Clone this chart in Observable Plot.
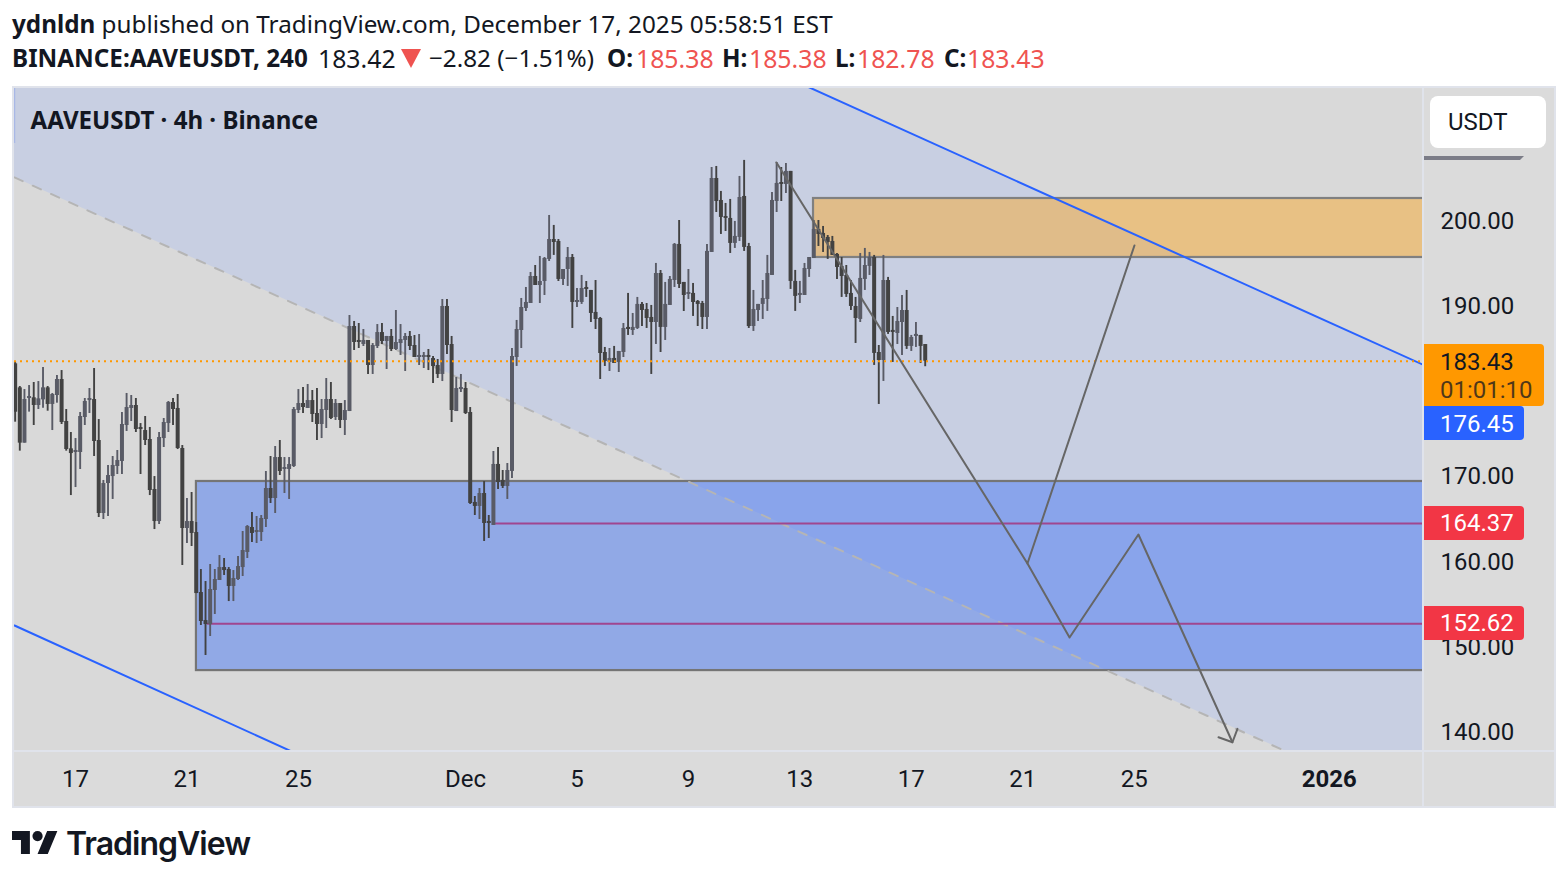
<!DOCTYPE html>
<html><head><meta charset="utf-8">
<script src="https://cdn.jsdelivr.net/npm/d3@7"></script>
<script src="https://cdn.jsdelivr.net/npm/@observablehq/plot@0.6"></script>
<style>
html,body{margin:0;padding:0;background:#fff;width:1568px;height:880px;overflow:hidden}
.h{position:absolute;white-space:pre;font-family:"Noto Sans",sans-serif;font-size:24.25px;line-height:32px;color:#131722}
.b{font-weight:700}.r{color:#ef5350;font-size:24.8px}
#chart{position:absolute;left:12px;top:86px;width:1544px;height:722px}
.box{position:absolute;box-sizing:border-box}
.tag{position:absolute;left:1412px;box-sizing:border-box;padding-left:16px;font:24px/34px Roboto,sans-serif;color:#fff;border-radius:0 4px 4px 0}
</style></head><body>
<div class="h b" style="left:12px;top:8px">ydnldn <span style="font-weight:400">published on TradingView.com, December 17, 2025 05:58:51 EST</span></div>
<div class="h b" style="left:12px;top:42px">BINANCE:AAVEUSDT, 240</div>
<div class="h" style="left:318px;top:42px;font-size:24.8px">183.42</div>
<svg style="position:absolute;left:401px;top:49px" width="20" height="19" viewBox="0 0 20 19"><polygon points="0,0 20,0 10,19" fill="#ef5350"/></svg>
<div class="h" style="left:429px;top:42px">−2.82 (−1.51%)</div>
<div class="h b" style="left:607px;top:42px">O:</div><div class="h r" style="left:636px;top:42px">185.38</div>
<div class="h b" style="left:722px;top:42px">H:</div><div class="h r" style="left:749px;top:42px">185.38</div>
<div class="h b" style="left:835px;top:42px">L:</div><div class="h r" style="left:857px;top:42px">182.78</div>
<div class="h b" style="left:944px;top:42px">C:</div><div class="h r" style="left:967px;top:42px">183.43</div>
<div id="chart"></div>
<svg style="position:absolute;left:12px;top:831px" width="46" height="23" viewBox="0 4 36 18"><path fill="#131722" d="M14 22H7V11H0V4h14v18zM28 22h-8l7.5-18h8L28 22z"/><circle fill="#131722" cx="20" cy="8" r="4"/></svg>
<div style="position:absolute;left:66px;top:824px;font:600 32px/40px Inter,sans-serif;letter-spacing:-1px;color:#131722">TradingView</div>
<script>
const opens=[183.12,180.30,173.81,179.05,179.13,178.23,178.89,180.30,178.35,179.40,
181.28,176.35,173.14,172.71,172.71,176.82,178.81,178.93,174.12,165.55,
169.07,169.89,171.07,171.66,175.88,177.88,178.23,175.65,175.29,174.24,
168.37,164.61,174.35,176.11,178.58,177.88,173.18,163.79,164.61,163.32,
156.28,152.99,152.52,156.52,157.69,159.21,158.98,156.99,157.81,159.21,
160.98,163.91,163.32,163.32,164.85,168.49,167.31,172.12,170.72,170.72,
171.07,177.64,178.46,177.88,178.81,177.29,176.00,177.64,178.93,176.82,
178.46,176.47,177.52,187.50,185.86,185.39,185.86,182.92,185.15,186.79,
185.74,186.33,184.80,185.50,185.86,186.33,185.27,183.86,183.86,184.10,
183.74,182.92,181.87,189.85,185.39,177.52,180.10,180.22,177.41,166.85,
166.38,167.90,164.62,164.15,171.31,169.43,168.73,170.49,183.86,187.03,
189.62,190.20,193.37,192.31,192.78,195.37,197.71,197.48,193.02,194.19,
195.60,190.32,190.32,192.08,191.73,189.15,188.44,184.45,183.28,183.75,
183.28,184.45,187.39,187.03,187.27,190.09,189.50,188.56,187.97,193.72,
187.39,189.97,192.90,197.13,192.67,191.26,191.38,190.44,190.20,188.56,
196.19,204.87,202.29,200.41,200.18,197.25,197.95,202.76,196.89,187.50,
189.38,190.09,190.67,193.49,202.17,204.40,204.17,205.70,192.79,191.14,
191.14,194.19,195.49,198.89,198.42,197.95,197.48,195.96,194.55,193.49,
191.38,189.85,188.33,193.02,194.55,195.60,184.45,183.51,192.90,187.04,
186.68,187.97,189.38,185.16,186.33,186.45,185.38];
const highs=[183.31,180.46,180.10,180.57,180.93,181.04,182.69,180.46,179.64,181.75,
182.33,177.76,175.06,174.35,177.41,179.05,180.22,182.57,176.58,169.43,
171.19,172.24,172.95,177.41,179.64,179.40,179.05,176.11,176.94,175.65,
169.89,175.06,176.70,178.70,179.05,179.52,173.53,167.31,168.02,164.50,
158.98,157.57,159.57,158.98,160.62,160.27,159.21,158.86,160.51,163.44,
164.14,165.67,165.20,165.32,170.48,172.24,173.42,174.12,172.12,172.12,
177.99,180.10,180.34,180.69,179.99,180.22,178.93,181.40,180.93,178.93,
178.46,178.81,188.79,188.09,187.85,187.15,185.86,185.50,187.73,187.85,
186.33,187.15,189.38,187.73,186.68,186.91,186.44,186.56,184.45,184.80,
183.98,183.63,190.67,190.67,186.33,181.51,181.87,180.93,177.99,167.55,
168.49,169.31,165.32,172.83,173.30,170.60,171.42,184.92,188.21,190.79,
192.08,193.84,194.66,195.72,195.60,200.53,199.36,197.71,194.19,196.77,
195.95,191.96,193.49,192.78,191.73,192.90,188.56,185.04,184.92,185.16,
184.57,187.85,191.38,189.03,190.91,190.32,190.20,189.97,194.90,194.07,
192.67,193.37,197.24,199.94,192.67,194.19,192.55,190.55,190.44,197.13,
206.16,206.28,203.35,201.94,202.41,199.83,205.11,206.99,197.25,191.73,
190.09,192.90,195.84,203.23,206.75,206.16,206.63,205.70,194.08,192.79,
194.90,195.60,199.94,199.94,199.24,198.18,198.07,196.07,195.60,194.66,
192.90,190.91,196.07,196.66,196.19,195.84,185.27,195.84,193.26,188.68,
189.73,191.14,191.73,186.45,187.97,186.45,185.38];
const lows=[176.27,172.87,173.81,177.45,175.88,177.76,177.91,177.56,175.29,178.50,
176.00,172.87,167.66,168.60,170.72,175.88,177.29,172.24,165.08,164.85,
165.20,167.20,170.13,170.13,175.18,176.35,175.06,170.13,173.53,167.66,
163.67,164.26,173.30,175.06,175.88,173.06,159.45,162.03,161.68,156.16,
152.41,148.89,151.12,153.70,157.69,158.28,155.22,155.22,157.69,158.16,
160.27,162.15,162.03,162.27,163.91,166.73,165.55,170.01,167.90,167.20,
170.95,177.29,177.29,177.88,176.23,174.12,174.35,175.53,176.58,176.47,
175.53,174.71,177.52,184.68,184.92,185.15,181.87,181.87,184.92,185.39,
182.45,184.56,184.68,184.10,182.22,184.68,183.86,182.92,182.57,182.33,
180.81,181.40,181.04,184.21,176.23,177.52,179.75,177.17,166.61,165.32,
164.85,162.27,162.62,164.15,168.37,168.49,167.20,169.66,182.81,184.92,
189.26,190.20,192.31,190.20,191.14,195.13,195.84,192.78,192.31,192.20,
187.27,189.73,190.09,190.91,187.97,187.15,181.28,182.81,182.22,183.16,
182.10,183.86,186.45,186.45,187.15,187.50,187.27,181.87,185.39,184.45,
185.86,189.97,192.08,191.96,189.26,190.67,188.68,187.50,187.15,187.15,
196.19,200.88,198.30,198.65,196.07,196.66,197.48,196.31,187.27,186.92,
188.09,188.33,189.27,193.49,200.88,202.17,203.11,191.85,189.27,190.20,
191.14,193.26,195.49,196.89,196.19,195.37,195.84,193.02,190.91,190.91,
189.38,185.51,187.97,191.73,193.49,182.93,178.35,181.05,186.57,183.28,
185.39,184.10,184.81,184.57,185.04,183.16,182.78];
const closes=[177.44,173.81,178.93,179.28,178.23,179.01,180.30,178.35,179.52,181.28,
176.23,173.06,172.59,172.95,176.94,178.70,179.05,174.00,165.55,169.07,
170.01,171.19,171.77,176.00,177.99,178.23,175.41,175.41,174.12,168.25,
164.61,174.47,176.23,178.58,177.76,173.18,163.79,164.61,163.21,156.16,
152.88,152.52,156.63,157.81,159.21,158.86,156.99,157.92,159.33,161.21,
164.03,163.21,163.56,164.97,168.49,167.31,172.12,170.48,170.95,171.30,
177.76,178.46,177.99,178.81,177.17,176.00,177.76,178.93,176.70,178.46,
176.47,177.64,187.50,185.62,185.62,185.86,182.92,185.27,186.79,185.74,
186.33,184.80,185.62,185.97,186.33,185.15,183.86,184.10,184.10,183.86,
182.80,181.87,189.85,185.27,177.64,180.22,180.34,177.29,166.73,166.38,
167.90,164.38,164.38,171.31,169.19,168.73,170.60,183.98,187.15,189.73,
190.32,193.37,192.31,192.78,195.48,197.71,197.36,193.02,194.19,195.60,
190.32,190.55,191.96,191.84,189.03,188.32,184.33,183.40,183.75,183.16,
184.57,187.27,187.15,187.39,190.09,189.38,188.44,187.97,193.72,187.39,
190.09,193.02,197.13,192.43,191.14,191.49,190.32,190.09,188.56,196.31,
204.87,202.17,200.30,200.18,197.25,198.07,202.64,196.78,187.50,189.50,
190.09,190.79,193.72,202.29,204.29,204.17,205.70,192.79,191.03,191.38,
194.31,195.60,198.89,198.30,197.83,197.36,195.84,194.43,193.37,191.26,
189.85,188.44,193.14,194.66,195.60,184.34,183.51,192.90,186.80,186.80,
188.09,189.38,185.16,186.21,186.57,185.16,183.43];

const firstBar = "2025-11-14T20:00Z";
const viewStart = "2025-11-14T19:26Z", viewEnd = "2026-01-04T08:24Z";
const priceMin = 137.74, priceMax = 215.43;
const priceTicks = [140,150,160,170,190,200];
const dateTicks = ["2025-11-17","2025-11-21","2025-11-25","2025-12-01","2025-12-05","2025-12-09","2025-12-13","2025-12-17","2025-12-21","2025-12-25"];
const dateTickLabels = ["17","21","25","Dec","5","9","13","17","21","25"];
const yearTick = "2026-01-01", yearLabel = "2026";

const channelDates = [viewStart, viewEnd];
const channelUpper = [257.7, 183.04];
const channelMiddle = [204.99, 130.4];
const channelLower = [152.41, 77.3];
const channelEdge = [208.98, priceMax];

const supplyZone = {start:"2025-12-13T11:46Z", end:"2026-01-10", top:202.52, bottom:195.6};
const demandZone = {start:"2025-11-21T08:10Z", end:"2026-01-10", top:169.31, bottom:147.12};
const levelPrices = [164.37, 152.62];
const levelStarts = ["2025-12-02T01:55Z","2025-11-21T17:40Z"];
const lastPrice = 183.43, linePrice = 176.45;

const pathA = [["2025-12-12T03:50Z",206.75],["2025-12-21T04:05Z",159.68],["2025-12-25T00:15Z",197.01]];
const pathB = [["2025-12-21T04:05Z",159.68],["2025-12-22T16:20Z",151.0],["2025-12-25T03:40Z",163.09],["2025-12-28T12:40Z",138.71]];
const arrowHead = [["2025-12-28T00:40Z",139.29],["2025-12-28T12:40Z",138.71],["2025-12-28T17:00Z",140.28]];

const UP = "#595b66", DOWN = "#424242", INK = "#131722";
const toDate = s => new Date(s);
const candles = opens.map((o,i)=>({t:new Date(+toDate(firstBar)+i*4*3600e3), o, h:highs[i], l:lows[i], c:closes[i], col: closes[i]>=o?UP:DOWN}));
const pts = a => a.map(([t,p])=>({t:toDate(t),p}));
const chan = channelDates.map((d,i)=>({t:toDate(d),u:channelUpper[i],m:channelMiddle[i],l:channelLower[i]}));
const levels = levelPrices.map((p,i)=>({p,t1:toDate(levelStarts[i]),t2:toDate(viewEnd)}));
const zone = z=>({x1:toDate(z.start),x2:toDate(z.end),y1:z.bottom,y2:z.top});

const plot = Plot.plot({
  width:1544, height:722, marginLeft:2, marginRight:134, marginTop:2, marginBottom:58,
  style:{background:"#dbdbdb",fontFamily:"Roboto,sans-serif",fontSize:"24px",color:INK},
  x:{type:"utc",domain:[toDate(viewStart),toDate(viewEnd)]},
  y:{domain:[priceMin,priceMax]},
  color:{type:"identity"},
  marks:[
    Plot.frame({fill:"#d9d9d9",stroke:null}),
    Plot.areaY(chan,{x:"t",y1:"m",y2:"u",fill:"#c8cfe2",clip:true}),
    Plot.rect([zone(supplyZone)],{x1:"x1",x2:"x2",y1:"y1",y2:"y2",fill:"#f7a92f",fillOpacity:0.5,stroke:"#808080",strokeWidth:2.2,clip:true}),
    Plot.rect([zone(demandZone)],{x1:"x1",x2:"x2",y1:"y1",y2:"y2",fill:"#4979f3",fillOpacity:0.5,stroke:"#757575",strokeWidth:2.2,clip:true}),
    Plot.line(chan,{x:"t",y:"m",stroke:"#b5b5b5",strokeWidth:2,strokeDasharray:"9,11",clip:true}),
    Plot.line(chan,{x:"t",y:"u",stroke:"#2962ff",strokeWidth:2,clip:true}),
    Plot.line(chan,{x:"t",y:"l",stroke:"#2962ff",strokeWidth:2,clip:true}),
    Plot.ruleX([toDate(viewStart)],{y1:channelEdge[0],y2:channelEdge[1],stroke:"#a9b8e6",strokeWidth:1.5}),
    Plot.ruleY(levels,{y:"p",x1:"t1",x2:"t2",stroke:"#a0468f",strokeWidth:2}),
    Plot.ruleX(candles,{x:"t",y1:"l",y2:"h",stroke:"col",strokeWidth:1.9}),
    Plot.ruleX(candles,{x:"t",y1:"o",y2:"c",stroke:"col",strokeWidth:4}),
    Plot.ruleY([lastPrice],{stroke:"#ff9800",strokeWidth:2,strokeDasharray:"2,4"}),
    Plot.line(pts(pathA),{x:"t",y:"p",stroke:"#666",strokeWidth:2,clip:true}),
    Plot.line(pts(pathB),{x:"t",y:"p",stroke:"#666",strokeWidth:2,clip:true}),
    Plot.line(pts(arrowHead),{x:"t",y:"p",stroke:"#666",strokeWidth:2,clip:true}),
    Plot.text(["AAVEUSDT · 4h · Binance"],{frameAnchor:"top-left",dx:16,dy:23,fontFamily:"Noto Sans",fontWeight:700,fontSize:24.1,fill:INK,lineAnchor:"top"}),
    Plot.axisY({anchor:"right",ticks:priceTicks,tickSize:0,tickPadding:18,tickFormat:d3.format(".2f"),label:null,color:INK,dy:1}),
    Plot.axisX({anchor:"bottom",ticks:dateTicks.map(toDate),tickSize:0,tickPadding:19,label:null,color:INK,
      tickFormat:d=>dateTickLabels[dateTicks.findIndex(s=>+toDate(s)===+d)]}),
    Plot.axisX({anchor:"bottom",ticks:[toDate(yearTick)],tickSize:0,tickPadding:19,label:null,color:INK,fontWeight:700,tickFormat:()=>yearLabel})
  ]
});
const chart = document.getElementById("chart");
chart.appendChild(plot);
plot.style.display="block";
const yS = plot.scale("y");
function box(css,text){const e=document.createElement("div");e.className="box";e.style.cssText+=css;if(text)e.textContent=text;chart.appendChild(e);return e;}
// pane separators and outer border
box("left:0;top:0;width:1544px;height:722px;border:2px solid #e0e3eb");
box("left:1410px;top:0;width:2px;height:722px;background:#e0e3eb");
box("left:0;top:664px;width:1544px;height:2px;background:#e0e3eb");
// currency button and scale grip
box("left:1418px;top:10px;width:116px;height:52px;background:#fff;border-radius:8px;font:24px/52px Roboto,sans-serif;color:#131722;padding-left:18px","USDT");
box("left:1412px;top:70px;width:100px;height:4px;background:#7b7c87;clip-path:polygon(0 0,100% 0,96% 100%,0 100%)");
function tag(price,bg,width,text,color){const e=document.createElement("div");e.className="tag";
  e.style.cssText+=`top:${yS.apply(price)-17}px;width:${width}px;height:34px;background:${bg};color:${color};`;
  e.textContent=text;chart.appendChild(e);return e;}
tag(levelPrices[0],"#f23645",100,"164.37","#fff");
tag(levelPrices[1],"#f23645",100,"152.62","#fff");
const ol=document.createElement("div");ol.className="tag";
ol.style.cssText+=`top:${yS.apply(lastPrice)-17}px;width:120px;height:62px;background:#ff9800;color:#131722;line-height:28px;padding-top:4px;`;
ol.innerHTML=`<div>183.43</div><div style="opacity:.75">01:01:10</div>`;chart.appendChild(ol);
const bl=document.createElement("div");bl.className="tag";
bl.style.cssText+=`top:${yS.apply(lastPrice)-17+62}px;width:100px;height:34px;background:#2962ff;color:#fff;line-height:36px;`;
bl.textContent=String(linePrice.toFixed(2));chart.appendChild(bl);
</script>
</body></html>
